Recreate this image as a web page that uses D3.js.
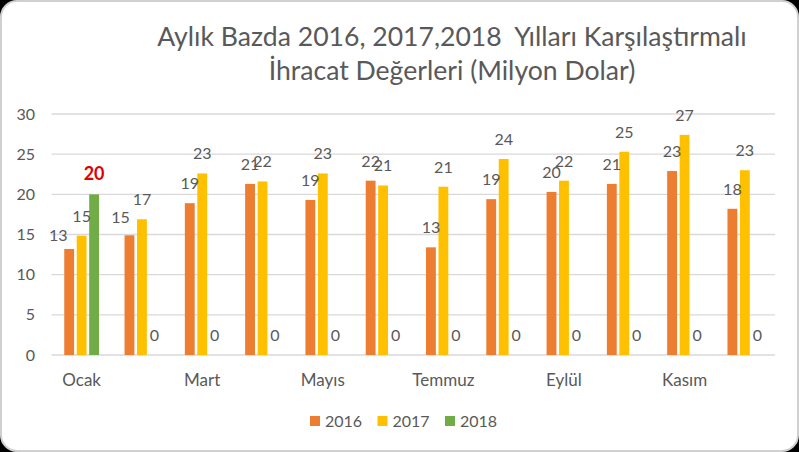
<!DOCTYPE html>
<html>
<head>
<meta charset="utf-8">
<script src="https://cdn.jsdelivr.net/npm/d3@7"></script>
<style>
  html, body { margin: 0; padding: 0; background: #000; }
  svg { display: block; }
  text { font-family: Lato, "Open Sans", sans-serif; fill: #595959; }
</style>
</head>
<body>
<div id="chart"></div>
<script>
// data
const months = ["Ocak", "Şubat", "Mart", "Nisan", "Mayıs", "Haziran",
  "Temmuz", "Ağustos", "Eylül", "Ekim", "Kasım", "Aralık"];
const years = ["2016", "2017", "2018"];
const values2016 = [13.2, 14.9, 18.9, 21.3, 19.3, 21.7, 13.4, 19.4, 20.3, 21.3, 22.9, 18.2];
const values2017 = [14.85, 16.9, 22.6, 21.6, 22.6, 21.1, 20.95, 24.4, 21.7, 25.3, 27.4, 23.0];
const values2018 = [20, 0, 0, 0, 0, 0, 0, 0, 0, 0, 0, 0];
const yTicks = [0, 5, 10, 15, 20, 25, 30];
const titleLines = ["Aylık Bazda 2016, 2017,2018  Yılları Karşılaştırmalı",
  "İhracat Değerleri (Milyon Dolar)"];

const colors = { "2016": "#ED7D31", "2017": "#FFC000", "2018": "#70AD47" };
const series = { "2016": values2016, "2017": values2017, "2018": values2018 };

const width = 799, height = 452;

const svg = d3.select("#chart").append("svg")
  .attr("width", width)
  .attr("height", height);

// white card with rounded corners on black
svg.append("rect")
  .attr("x", 1).attr("y", 1)
  .attr("width", width - 2).attr("height", height - 2)
  .attr("rx", 16)
  .attr("fill", "#fff")
  .attr("stroke", "#d0d0d0")
  .attr("stroke-width", 2);

// title
svg.append("g").selectAll("text")
  .data(titleLines)
  .join("text")
  .attr("x", 452)
  .attr("y", (d, i) => 46 + i * 34)
  .attr("text-anchor", "middle")
  .style("white-space", "pre")
  .style("font-size", "26.6px")
  .text(d => d);

const x0 = d3.scaleBand().domain(months).range([51.5, 775]);
const x1 = d3.scaleBand().domain(years).range([-20, 20]).padding(0.21);
const y = d3.scaleLinear().domain([0, 30]).range([355, 114]);

// gridlines
svg.append("g").selectAll("line")
  .data(yTicks)
  .join("line")
  .attr("x1", 51.5).attr("x2", 775)
  .attr("y1", d => y(d)).attr("y2", d => y(d))
  .attr("stroke", "#d9d9d9")
  .attr("stroke-width", 1.3);

// y axis labels
svg.append("g").selectAll("text")
  .data(yTicks)
  .join("text")
  .attr("x", 35)
  .attr("y", d => y(d))
  .attr("dy", "0.35em")
  .attr("text-anchor", "end")
  .style("font-size", "16px")
  .text(d => d);

// x axis labels, every other month
svg.append("g").selectAll("text")
  .data(months.filter((m, i) => i % 2 === 0))
  .join("text")
  .attr("x", d => x0(d) + x0.bandwidth() / 2)
  .attr("y", 386)
  .attr("text-anchor", "middle")
  .style("font-size", "17px")
  .text(d => d);

const rows = [];
months.forEach((m, i) => {
  years.forEach(yr => rows.push({ month: m, year: yr, value: series[yr][i] }));
});

const cx = d => x0(d.month) + x0.bandwidth() / 2;

svg.append("g").selectAll("rect")
  .data(rows)
  .join("rect")
  .attr("x", d => cx(d) + x1(d.year))
  .attr("width", x1.bandwidth())
  .attr("y", d => y(d.value))
  .attr("height", d => y(0) - y(d.value))
  .attr("fill", d => colors[d.year]);

// a few labels were moved by hand in the original
const nudge = { "Ocak-2016": [-11, 6.5], "Şubat-2016": [-9, 2] };

svg.append("g").selectAll("text")
  .data(rows)
  .join("text")
  .attr("x", d => cx(d) + x1(d.year) + x1.bandwidth() / 2 + (nudge[d.month + "-" + d.year] || [0, 0])[0])
  .attr("y", d => y(d.value) - 14 + (nudge[d.month + "-" + d.year] || [0, 0])[1])
  .attr("text-anchor", "middle")
  .style("font-size", d => d.year === "2018" && d.value > 0 ? "18px" : "16px")
  .style("font-weight", d => d.year === "2018" && d.value > 0 ? "bold" : null)
  .style("fill", d => d.year === "2018" && d.value > 0 ? "#E00000" : null)
  .text(d => d3.format(".0f")(d.value));

// legend
const legend = svg.append("g").selectAll("g")
  .data(years)
  .join("g")
  .attr("transform", (d, i) => `translate(${310 + i * 67.5},416)`);

legend.append("rect")
  .attr("width", 10).attr("height", 10)
  .attr("fill", d => colors[d]);

legend.append("text")
  .attr("x", 15)
  .attr("y", 5)
  .attr("dy", "0.35em")
  .style("font-size", "16px")
  .text(d => d);
</script>
</body>
</html>
